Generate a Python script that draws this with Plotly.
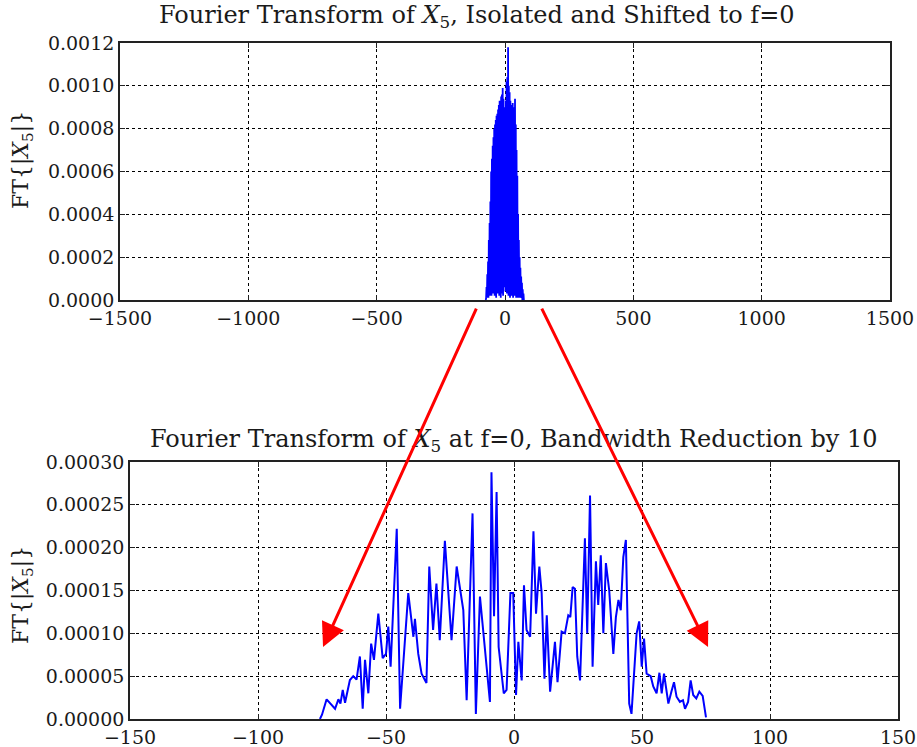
import plotly.graph_objects as go

# ---------------- data ----------------
# Top panel: full-resolution spectrum (dense oscillation, read as peak/trough pairs)
top_freq = [-75, -73.5, -72, -70.5, -69, -67.5, -66, -64.5, -63, -61.5, -60, -58.5, -57, -55.5,
            -54, -52.5, -51, -49.5, -48, -46.5, -45, -43.5, -42, -40.5, -39, -37.5, -36, -34.5,
            -33, -31.5, -30, -28.5, -27, -25.5, -24, -22.5, -21, -19.5, -18, -16.5, -15, -13.5,
            -12, -10.5, -9, -7.5, -6, -4.5, -3, -1.5, 0, 1.5, 3, 4.5, 6, 7.5, 9, 10.5, 12, 13.5,
            15, 16.5, 18, 19.5, 21, 22.5, 24, 25.5, 27, 28.5, 30, 31.5, 33, 34.5, 36, 37.5, 39,
            40.5, 42, 43.5, 45, 46.5, 48, 49.5, 51, 52.5, 54, 55.5, 57, 58.5, 60, 61.5, 63, 64.5,
            66, 67.5, 69, 70.5, 72, 73.5, 75]
top_amp_e4 = [0.0, 0.1, 0.6, 0.1, 1.2, 0.2, 1.8, 0.1, 2.8, 0.3, 3.6, 0.2, 4.6, 0.4,
              6.0, 0.2, 6.6, 0.5, 7.2, 0.3, 7.6, 0.6, 8.0, 0.2, 8.2, 0.4, 8.4, 0.1,
              8.6, 0.5, 8.7, 0.3, 8.9, 0.6, 9.1, 0.2, 9.3, 0.4, 9.2, 0.1, 9.5, 0.3,
              9.6, 0.5, 9.9, 0.2, 9.4, 0.6, 9.0, 0.7, 8.8, 0.4, 9.3, 0.6, 10.2, 0.3, 10.4, 0.5,
              11.8, 0.2, 10.0, 0.4, 9.7, 0.1, 9.3, 0.5, 9.1, 0.2, 9.0, 0.4, 9.2, 0.1,
              9.0, 0.3, 9.0, 0.2, 9.4, 0.4, 8.2, 0.1, 7.0, 0.3, 5.8, 0.1, 4.0, 0.2,
              2.8, 0.1, 2.0, 0.2, 1.5, 0.1, 1.1, 0.1, 0.8, 0.0, 0.5, 0.0, 0.3, 0.0, 0.0]

# Bottom panel: reduced-bandwidth spectrum
bot_freq = [-75.8, -75.0, -73.2, -71.2, -69.9, -68.6, -67.8, -66.9, -66.0, -64.1, -62.8, -61.5,
            -60.2, -59.1, -58.2, -56.9, -55.8, -54.7, -53.0, -51.3, -50.0, -49.1, -48.2, -45.8,
            -44.5, -41.3, -39.3, -38.7, -37.4, -36.1, -34.2, -33.1, -31.6, -30.3, -29.0, -27.0,
            -24.4, -22.4, -19.8, -18.5, -16.2, -14.9, -13.3, -9.4, -8.8, -7.8, -6.8, -6.0, -4.0,
            -2.9, -1.4, -0.3, 0.8, 1.7, 3.0, 3.9, 4.9, 6.3, 7.6, 8.6, 9.9, 10.8, 11.9, 12.8,
            14.1, 16.0, 17.0, 18.6, 19.9, 21.2, 22.0, 22.9, 23.8, 24.7, 25.8, 27.7, 28.6, 29.7,
            30.7, 32.0, 32.9, 33.9, 34.9, 35.9, 37.2, 38.8, 39.8, 40.8, 41.7, 42.7, 43.7, 45.0,
            45.9, 47.9, 48.9, 49.9, 50.8, 51.8, 53.4, 54.4, 55.7, 56.8, 57.7, 58.6, 59.5, 60.3,
            61.5, 62.5, 63.5, 64.8, 66.0, 66.8, 68.0, 69.0, 70.0, 71.2, 72.4, 73.7, 75.0]
bot_amp_e5 = [0.0, 0.5, 2.3, 1.6, 1.2, 2.3, 1.8, 3.4, 1.9, 4.55, 5.0, 4.6,
              7.3, 1.2, 6.9, 3.0, 8.8, 6.9, 12.3, 7.1, 7.6, 10.8, 6.1, 22.2,
              1.2, 14.7, 9.6, 11.7, 7.6, 5.3, 4.2, 17.8, 10.4, 15.8, 9.2, 20.8,
              9.2, 17.8, 12.7, 2.2, 24.0, 0.6, 14.3, 2.0, 28.8, 12.0, 26.5, 8.4, 3.0,
              3.4, 14.7, 14.7, 2.8, 9.0, 4.5, 15.6, 10.4, 9.6, 21.9, 12.3, 17.8, 14.7, 4.7, 12.1,
              3.2, 9.0, 4.3, 10.2, 10.0, 12.1, 11.9, 15.4, 15.2, 7.3, 4.5, 21.1, 10.0, 26.1,
              6.1, 18.4, 13.3, 19.1, 10.0, 18.2, 15.0, 7.6, 11.9, 13.9, 12.7, 18.9, 20.9, 1.8,
              0.6, 10.0, 11.4, 6.1, 9.4, 5.3, 5.0, 3.8, 3.0, 5.4, 3.0, 5.3, 3.2, 1.8,
              3.2, 4.3, 2.6, 2.0, 2.2, 1.2, 2.0, 4.5, 2.8, 2.4, 3.2, 2.7, 0.2]

top_y = [v * 1e-4 for v in top_amp_e4]
bot_y = [v * 1e-5 for v in bot_amp_e5]

top_title = "Fourier Transform of <i>X</i><sub>5</sub>, Isolated and Shifted to f=0"
bot_title = "Fourier Transform of <i>X</i><sub>5</sub> at f=0, Bandwidth Reduction by 10"
ylab = "FT{|<i>X</i><sub>5</sub>|}"

# ---------------- figure ----------------
W, H = 917, 747
FONT = "DejaVu Serif"
TXT = "#1a1a1a"

fig = go.Figure()
fig.add_trace(go.Scatter(x=top_freq, y=top_y, mode="lines",
                         line=dict(color="#0000ff", width=1.8), xaxis="x", yaxis="y",
                         showlegend=False, hoverinfo="skip"))
fig.add_trace(go.Scatter(x=bot_freq, y=bot_y, mode="lines",
                         line=dict(color="#0000ff", width=2), xaxis="x2", yaxis="y2",
                         showlegend=False, hoverinfo="skip"))

axis_common = dict(showline=True, linecolor="#222222", linewidth=1.6, mirror="ticks",
                   ticks="inside", ticklen=5, tickwidth=1, tickcolor="#222222",
                   showgrid=True, gridcolor="#000000", griddash="dot", gridwidth=1,
                   zeroline=False, automargin=False,
                   tickfont=dict(family=FONT, size=19, color=TXT))

top_l, top_r, top_t, top_b = 120, 890, 43, 300
bot_l, bot_r, bot_t, bot_b = 130, 898, 462, 719

fig.update_layout(
    template="none",
    width=W, height=H, margin=dict(l=0, r=0, t=0, b=0, autoexpand=False),
    paper_bgcolor="white", plot_bgcolor="white",
    xaxis=dict(axis_common, domain=[top_l / W, top_r / W], range=[-1500, 1500],
               tick0=0, dtick=500, anchor="y"),
    yaxis=dict(axis_common, domain=[1 - top_b / H, 1 - top_t / H], range=[0, 0.0012],
               tick0=0, dtick=0.0002, tickformat=".4f", anchor="x"),
    xaxis2=dict(axis_common, domain=[bot_l / W, bot_r / W], range=[-150, 150],
                tick0=0, dtick=50, anchor="y2"),
    yaxis2=dict(axis_common, domain=[1 - bot_b / H, 1 - bot_t / H], range=[0, 0.0003],
                tick0=0, dtick=0.00005, tickformat=".5f", anchor="x2"),
)

annotations = [
    dict(text=top_title, xref="x domain", yref="y domain", x=0.5, y=1, yshift=27,
         xshift=-28, xanchor="center", yanchor="middle", showarrow=False,
         font=dict(family=FONT, size=24, color=TXT)),
    dict(text=bot_title, xref="x2 domain", yref="y2 domain", x=0.5, y=1, yshift=22,
         xanchor="center", yanchor="middle", showarrow=False,
         font=dict(family=FONT, size=24, color=TXT)),
    dict(text=ylab, xref="paper", yref="paper", x=22 / W, y=1 - 160 / H, textangle=-90,
         xanchor="center", yanchor="middle", showarrow=False,
         font=dict(family=FONT, size=22, color=TXT)),
    dict(text=ylab, xref="paper", yref="paper", x=22 / W, y=1 - 595 / H, textangle=-90,
         xanchor="center", yanchor="middle", showarrow=False,
         font=dict(family=FONT, size=22, color=TXT)),
    # red arrows from the top peak down to the zoomed panel
    dict(text="", xref="x2", yref="y2", x=-74.6, y=8.4e-5, ax=154, ay=-340,
         axref="pixel", ayref="pixel", showarrow=True, arrowhead=2, arrowsize=1.6,
         arrowwidth=3, arrowcolor="#ff0000", standoff=0),
    dict(text="", xref="x2", yref="y2", x=75.8, y=8.4e-5, ax=-167, ay=-340,
         axref="pixel", ayref="pixel", showarrow=True, arrowhead=2, arrowsize=1.6,
         arrowwidth=3, arrowcolor="#ff0000", standoff=0),
]
fig.update_layout(annotations=annotations)

fig.write_html("out.html")
